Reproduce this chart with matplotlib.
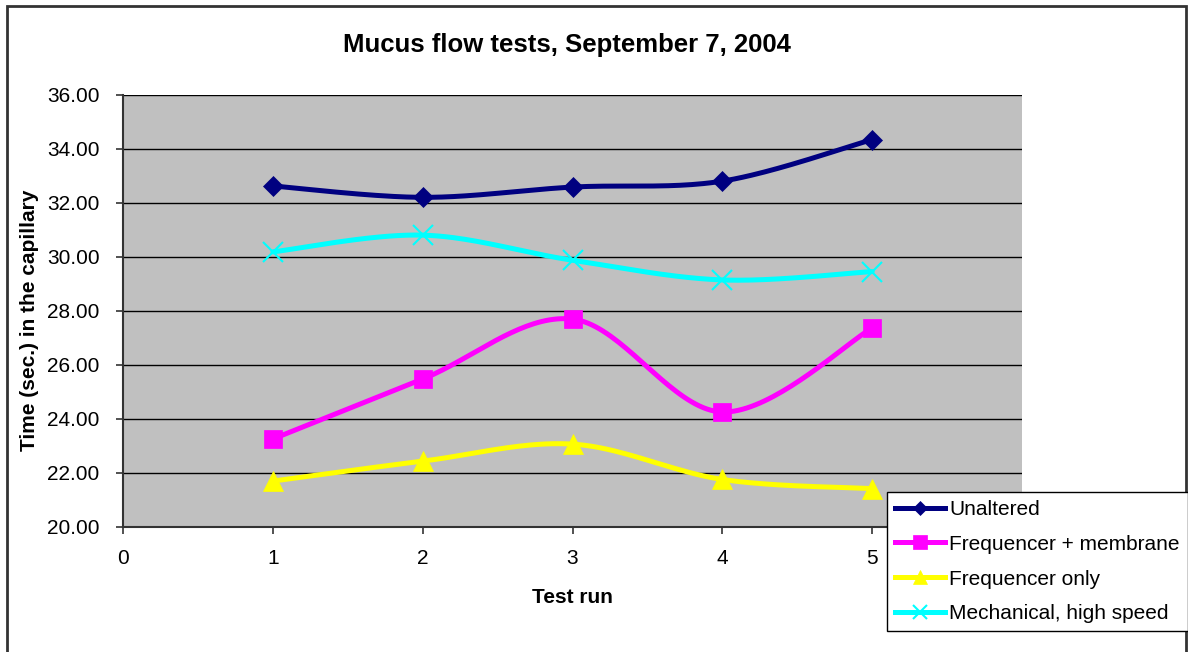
import numpy as np
import matplotlib
matplotlib.use("Agg")
import matplotlib.pyplot as plt
from matplotlib.lines import Line2D
from matplotlib.patches import Rectangle

plt.rcParams['font.family'] = ['Liberation Sans', 'DejaVu Sans']

title = "Mucus flow tests, September 7, 2004"
xlabel = "Test run"
ylabel = "Time (sec.) in the capillary"
runs = [1, 2, 3, 4, 5]
series_names = ["Unaltered", "Frequencer + membrane", "Frequencer only", "Mechanical, high speed"]
unaltered = [32.63, 32.21, 32.59, 32.81, 34.35]
freq_membrane = [23.26, 25.48, 27.70, 24.26, 27.37]
freq_only = [21.70, 22.44, 23.07, 21.76, 21.42]
mechanical = [30.19, 30.81, 29.88, 29.15, 29.46]
colors = ["#000080", "#FF00FF", "#FFFF00", "#00FFFF"]
markers = ["D", "s", "^", "x"]
msizes = [10, 13, 14, 14]
y_ticks = [20, 22, 24, 26, 28, 30, 32, 34, 36]
x_ticks = [0, 1, 2, 3, 4, 5]


def smooth(xs, ys, n=40):
    """Excel-like smoothing: Catmull-Rom converted to cubic Bezier segments."""
    P = np.column_stack([xs, ys]).astype(float)
    m = len(P)
    out = []
    for i in range(m - 1):
        p0 = P[i - 1] if i > 0 else P[i]
        p1 = P[i]
        p2 = P[i + 1]
        p3 = P[i + 2] if i + 2 < m else P[i + 1]
        c1 = p1 + (p2 - p0) / 6.0
        c2 = p2 - (p3 - p1) / 6.0
        t = np.linspace(0, 1, n)[:, None]
        seg = ((1 - t) ** 3) * p1 + 3 * ((1 - t) ** 2) * t * c1 + 3 * (1 - t) * t ** 2 * c2 + t ** 3 * p2
        out.append(seg if i == 0 else seg[1:])
    arr = np.vstack(out)
    return arr[:, 0], arr[:, 1]


W, H = 1188, 652
fig = plt.figure(figsize=(W / 100, H / 100), dpi=100)
fig.patch.set_facecolor("white")

L, R, T, B = 123, 1022, 95, 527
ax = fig.add_axes([L / W, 1 - B / H, (R - L) / W, (B - T) / H])
ax.set_facecolor("#C0C0C0")
ax.set_xlim(0, 6)
ax.set_ylim(20, 36)
ax.set_yticks(y_ticks)
ax.set_yticklabels([f"{v:.2f}" for v in y_ticks])
ax.set_xticks(x_ticks)
ax.tick_params(axis="both", labelsize=15, length=5, width=1.2, color="#333333", pad=12)
ax.tick_params(axis="x", pad=11)
ax.grid(axis="y", color="#000000", linewidth=1.0)
ax.set_axisbelow(True)
for s in ["top", "right"]:
    ax.spines[s].set_visible(False)
for s in ["left", "bottom"]:
    ax.spines[s].set_color("#333333")
    ax.spines[s].set_linewidth(1.5)

all_series = [unaltered, freq_membrane, freq_only, mechanical]
handles = []
for vals, c, mk, ms, name in zip(all_series, colors, markers, msizes, series_names):
    sx, sy = smooth(runs, vals)
    ax.plot(sx, sy, color=c, linewidth=3.6, solid_capstyle="round", zorder=3)
    mew = 1.5 if mk == "x" else 0.5
    ax.plot(runs, vals, linestyle="none", marker=mk, markersize=ms, color=c,
            markeredgecolor=c, markeredgewidth=mew, zorder=4)
    handles.append(Line2D([], [], color=c, linewidth=3.6, marker=mk, markersize=ms * 0.75,
                          markeredgecolor=c, markeredgewidth=mew))

ax.set_xlabel(xlabel, fontsize=15, fontweight="bold")
ax.xaxis.set_label_coords((572 - L) / (R - L), (B - 588) / (B - T))
ax.set_ylabel(ylabel, fontsize=15, fontweight="bold")
ax.yaxis.set_label_coords((39 - L) / (R - L), (B - 320) / (B - T))

fig.text(567 / W, 1 - 45 / H, title, fontsize=18.5, fontweight="bold", ha="center", va="center")

leg = fig.legend(handles, series_names, loc="upper left",
                 bbox_to_anchor=(887 / W, 1 - 492 / H), fontsize=15,
                 frameon=True, fancybox=False, edgecolor="#000000", framealpha=1,
                 handlelength=2.4, handletextpad=0.2, labelspacing=0.76,
                 borderpad=0.38, borderaxespad=0)
leg.get_frame().set_linewidth(1.0)

fig.patches.append(Rectangle((7 / W, -10 / H), (1186 - 7) / W, (646 + 10) / H, transform=fig.transFigure,
                             fill=False, edgecolor="#333333", linewidth=2.0))

fig.savefig("out.png", dpi=100)
